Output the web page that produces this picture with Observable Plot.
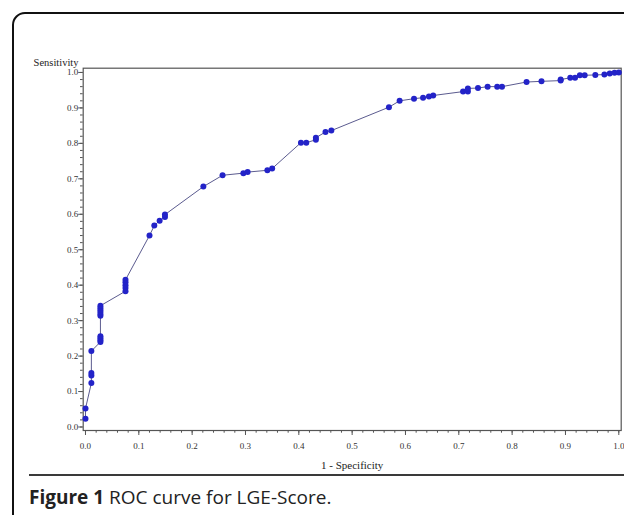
<!DOCTYPE html>
<html><head><meta charset="utf-8">
<script src="https://cdn.jsdelivr.net/npm/d3@7"></script>
<script src="https://cdn.jsdelivr.net/npm/@observablehq/plot@0.6"></script>
<style>
body{margin:0;background:#fff;}
#wrap{position:relative;width:624px;height:515px;overflow:hidden;background:#fff;}
#card{position:absolute;left:12px;top:12px;width:700px;height:600px;border:2px solid #111;border-top-left-radius:13px;box-sizing:border-box;pointer-events:none;}
#chart{position:absolute;left:0;top:0;}
#rule{position:absolute;left:29px;top:474px;width:620px;height:0;border-top:2px solid #3a3a3a;}
#caption{position:absolute;left:29px;top:485px;font-family:"Open Sans",sans-serif;font-size:19px;color:#222;line-height:24px;white-space:nowrap;}
</style></head><body>
<div id="wrap"><div id="chart"></div><div id="rule"></div><div id="caption"><b>Figure 1</b> ROC curve for LGE-Score.</div><div id="card"></div></div>
<script>
// 1 - Specificity (false positive rate)
const fpr = [0,0,0.011,0.011,0.011,0.011,
  0.028,0.028,0.028,0.028,
  0.028,0.028,0.028,0.028,0.028,0.028,
  0.075,0.075,0.075,0.075,0.075,
  0.12,0.129,0.139,0.149,0.149,
  0.221,0.257,0.296,0.304,0.341,0.35,
  0.404,0.414,0.432,0.432,0.45,0.461,
  0.569,0.589,0.616,0.633,0.644,0.652,
  0.708,0.717,0.717,0.736,0.754,0.772,0.781,
  0.827,0.855,0.891,0.891,0.909,0.918,0.927,0.936,0.956,0.973,0.983,0.992,1.0];
// Sensitivity (true positive rate)
const tpr = [0.023,0.052,0.124,0.145,0.152,0.214,
  0.24,0.245,0.25,0.256,
  0.314,0.319,0.325,0.331,0.336,0.342,
  0.383,0.392,0.40,0.408,0.415,
  0.540,0.568,0.582,0.592,0.599,
  0.678,0.710,0.716,0.719,0.724,0.729,
  0.802,0.802,0.810,0.816,0.832,0.836,
  0.902,0.920,0.926,0.929,0.932,0.935,
  0.946,0.946,0.955,0.956,0.960,0.960,0.960,
  0.973,0.975,0.977,0.980,0.985,0.985,0.992,0.992,0.993,0.994,0.997,0.999,1.0];
const xTicks = [0,0.1,0.2,0.3,0.4,0.5,0.6,0.7,0.8,0.9,1.0];
const xTickLabels = ["0.0","0.1","0.2","0.3","0.4","0.5","0.6","0.7","0.8","0.9","1.0"];
const yTicks = [0,0.1,0.2,0.3,0.4,0.5,0.6,0.7,0.8,0.9,1.0];
const yTickLabels = ["0.0","0.1","0.2","0.3","0.4","0.5","0.6","0.7","0.8","0.9","1.0"];
const xLabel = "1 - Specificity";
const yLabel = "Sensitivity";

const roc = fpr.map((x, i) => ({fpr: x, tpr: tpr[i]}));
const minorTicks = d3.ticks(0, 1, 50);
const xFmt = new Map(xTicks.map((v, i) => [v, xTickLabels[i]]));
const yFmt = new Map(yTicks.map((v, i) => [v, yTickLabels[i]]));

const plot = Plot.plot({
  width: 624, height: 473,
  marginLeft: 82.7, marginRight: 3.3, marginTop: 67.7, marginBottom: 43,
  style: {background: "transparent", fontFamily: "'Liberation Serif', serif", fontSize: "9px", color: "#333"},
  x: {domain: [-0.0043, 1.0045]},
  y: {domain: [-0.0099, 1.012]},
  marks: [
    Plot.frame({stroke: "#555", strokeWidth: 1.2}),
    Plot.axisX({ticks: minorTicks, tickSize: 2.7, text: null, label: null, stroke: "#555"}),
    Plot.axisX({ticks: xTicks, tickFormat: d => xFmt.get(d), tickSize: 5, tickPadding: 7, label: null, stroke: "#555"}),
    Plot.axisY({ticks: minorTicks, tickSize: 2.7, text: null, label: null, stroke: "#555"}),
    Plot.axisY({ticks: yTicks, tickFormat: d => yFmt.get(d), tickSize: 4.5, tickPadding: 0.5, label: null, stroke: "#555"}),
    Plot.text([yLabel], {text: d => d, frameAnchor: "top-left", lineAnchor: "middle", textAnchor: "end", dx: -4.7, dy: -5.7, fontSize: 10.5, fill: "#222"}),
    Plot.text([xLabel], {text: d => d, frameAnchor: "bottom", lineAnchor: "middle", dy: 35, fontSize: 11, fill: "#222"}),
    Plot.line(roc, {x: "fpr", y: "tpr", stroke: "#5b5b8f", strokeWidth: 1}),
    Plot.dot(roc, {x: "fpr", y: "tpr", r: 3, fill: "#2323c8", stroke: "none"})
  ]
});
document.getElementById("chart").appendChild(plot);
</script>
</body></html>
